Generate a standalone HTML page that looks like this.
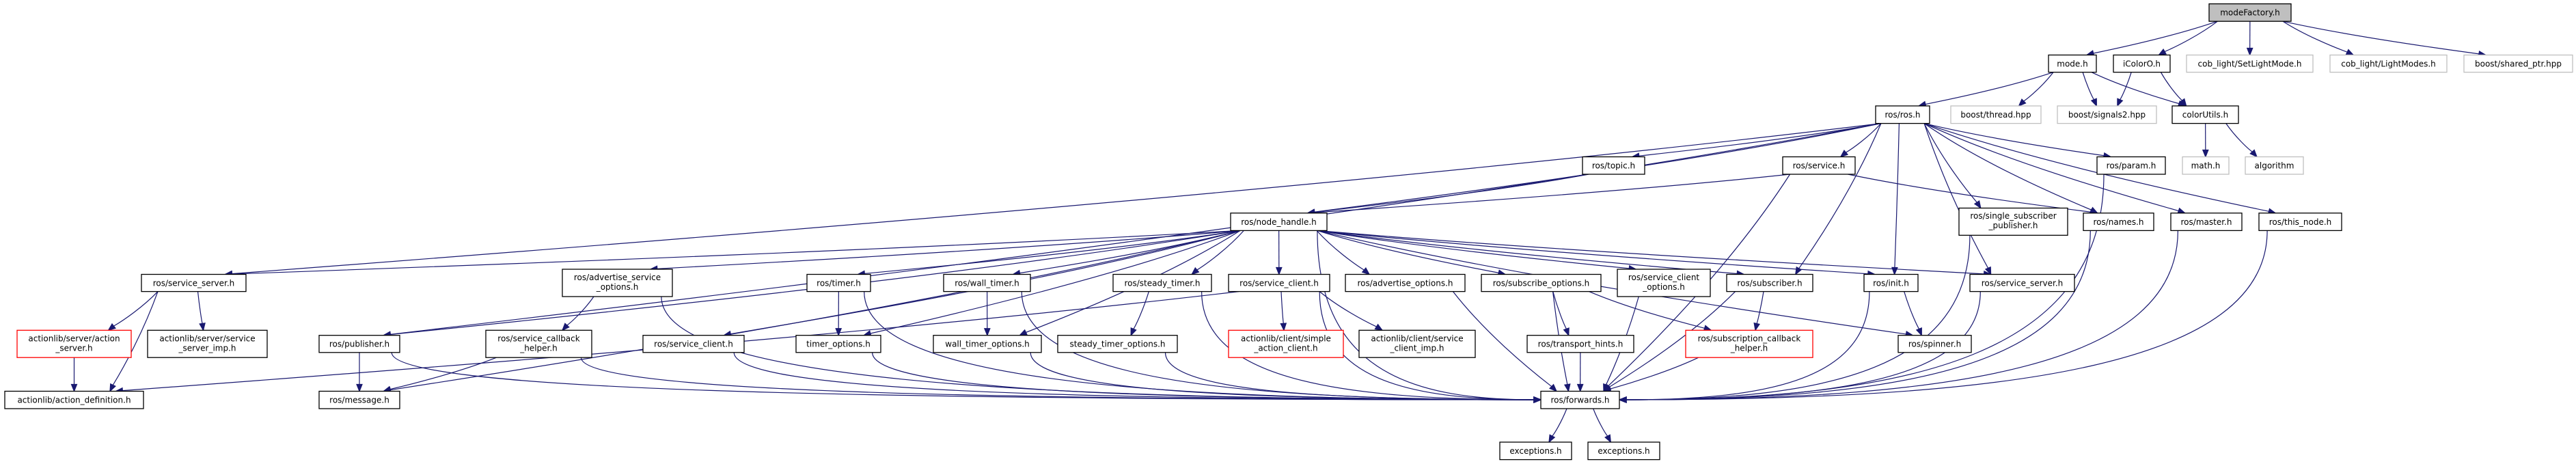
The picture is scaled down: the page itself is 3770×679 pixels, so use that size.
<!DOCTYPE html>
<html><head><meta charset="utf-8"><style>
html,body{margin:0;padding:0;background:#fff;}
svg{display:block;}
text{font-family:"DejaVu Sans","Liberation Sans",sans-serif;font-size:12px;fill:#000;text-anchor:middle;}
rect{fill:#fff;stroke:#000;stroke-width:1.3;}
rect.g{stroke:#bfbfbf;}
rect.r{stroke:#ff0000;}
rect.f{fill:#bfbfbf;}
</style></head><body>
<svg id="s" width="3770" height="679" viewBox="0 0 3770 679" xmlns="http://www.w3.org/2000/svg">
<g id="edges" fill="none" stroke="#191970" stroke-width="1.2"></g>
<g id="nodes">
<rect class="f" x="3233" y="5.6" width="120" height="25.6"/><text x="3293" y="22.5">modeFactory.h</text>
<rect x="2998" y="80.5" width="70" height="25.2"/><text x="3033" y="97.3">mode.h</text>
<rect x="3093" y="80.5" width="83" height="25.2"/><text x="3134.5" y="97.3">iColorO.h</text>
<rect class="g" x="3200" y="80.5" width="185" height="25.2"/><text x="3292.5" y="97.3">cob_light/SetLightMode.h</text>
<rect class="g" x="3410" y="80.5" width="171" height="25.2"/><text x="3495.5" y="97.3">cob_light/LightModes.h</text>
<rect class="g" x="3606" y="80.5" width="159" height="25.2"/><text x="3685.5" y="97.3">boost/shared_ptr.hpp</text>
<rect x="2745" y="155" width="79" height="25.6"/><text x="2784.5" y="172">ros/ros.h</text>
<rect class="g" x="2855" y="155" width="132" height="25.6"/><text x="2921" y="172">boost/thread.hpp</text>
<rect class="g" x="3011" y="155" width="145" height="25.6"/><text x="3083.5" y="172">boost/signals2.hpp</text>
<rect x="3179" y="155" width="97" height="25.6"/><text x="3227.5" y="172">colorUtils.h</text>
<rect class="g" x="3194" y="229.5" width="68" height="25.5"/><text x="3228" y="246.5">math.h</text>
<rect class="g" x="3286" y="229.5" width="85" height="25.5"/><text x="3328.5" y="246.5">algorithm</text>
<rect x="3069" y="229.5" width="100" height="25.5"/><text x="3119" y="246.5">ros/param.h</text>
<rect x="2316" y="229.5" width="91" height="25.5"/><text x="2361.5" y="246.5">ros/topic.h</text>
<rect x="2609" y="229.5" width="106" height="25.5"/><text x="2662" y="246.5">ros/service.h</text>
<rect x="1801" y="311.8" width="141" height="25.6"/><text x="1871.5" y="328.8">ros/node_handle.h</text>
<rect x="2867" y="304.5" width="159" height="39.8"/><text x="2946.5" y="320">ros/single_subscriber</text><text x="2946.5" y="334">_publisher.h</text>
<rect x="3049" y="311.8" width="103" height="25.6"/><text x="3100.5" y="328.8">ros/names.h</text>
<rect x="3177" y="311.8" width="104" height="25.6"/><text x="3229" y="328.8">ros/master.h</text>
<rect x="3306" y="311.8" width="121" height="25.6"/><text x="3366.5" y="328.8">ros/this_node.h</text>
<rect x="207" y="401.5" width="153" height="25.1"/><text x="283.5" y="418.3">ros/service_server.h</text>
<rect x="823" y="394" width="161" height="40"/><text x="903.5" y="410">ros/advertise_service</text><text x="903.5" y="424">_options.h</text>
<rect x="1181" y="401.5" width="93" height="25.1"/><text x="1227.5" y="418.3">ros/timer.h</text>
<rect x="1381" y="401.5" width="127" height="25.1"/><text x="1444.5" y="418.3">ros/wall_timer.h</text>
<rect x="1629" y="401.5" width="144" height="25.1"/><text x="1701" y="418.3">ros/steady_timer.h</text>
<rect x="1798" y="401.5" width="148" height="25.1"/><text x="1872" y="418.3">ros/service_client.h</text>
<rect x="1969" y="401.5" width="175" height="25.1"/><text x="2056.5" y="418.3">ros/advertise_options.h</text>
<rect x="2168" y="401.5" width="175" height="25.1"/><text x="2255.5" y="418.3">ros/subscribe_options.h</text>
<rect x="2367" y="394" width="136" height="40"/><text x="2435" y="410">ros/service_client</text><text x="2435" y="424">_options.h</text>
<rect x="2527" y="401.5" width="126" height="25.1"/><text x="2590" y="418.3">ros/subscriber.h</text>
<rect x="2728" y="401.5" width="79" height="25.1"/><text x="2767.5" y="418.3">ros/init.h</text>
<rect x="2883" y="401.5" width="153" height="25.1"/><text x="2959.5" y="418.3">ros/service_server.h</text>
<rect class="r" x="25" y="483.3" width="167" height="39.9"/><text x="108.5" y="499.3">actionlib/server/action</text><text x="108.5" y="513.3">_server.h</text>
<rect x="216" y="483.3" width="175" height="39.9"/><text x="303.5" y="499.3">actionlib/server/service</text><text x="303.5" y="513.3">_server_imp.h</text>
<rect x="467" y="490.7" width="118" height="25.1"/><text x="526" y="507.5">ros/publisher.h</text>
<rect x="711" y="483.3" width="155" height="39.9"/><text x="788.5" y="499.3">ros/service_callback</text><text x="788.5" y="513.3">_helper.h</text>
<rect x="941" y="490.7" width="148" height="25.1"/><text x="1015" y="507.5">ros/service_client.h</text>
<rect x="1165" y="490.7" width="124" height="25.1"/><text x="1227" y="507.5">timer_options.h</text>
<rect x="1366" y="490.7" width="158" height="25.1"/><text x="1445" y="507.5">wall_timer_options.h</text>
<rect x="1548" y="490.7" width="175" height="25.1"/><text x="1635.5" y="507.5">steady_timer_options.h</text>
<rect class="r" x="1798" y="483.3" width="168" height="39.9"/><text x="1882" y="499.3">actionlib/client/simple</text><text x="1882" y="513.3">_action_client.h</text>
<rect x="1989" y="483.3" width="170" height="39.9"/><text x="2074" y="499.3">actionlib/client/service</text><text x="2074" y="513.3">_client_imp.h</text>
<rect x="2235" y="490.7" width="156" height="25.1"/><text x="2313" y="507.5">ros/transport_hints.h</text>
<rect class="r" x="2467" y="483.3" width="186" height="39.9"/><text x="2560" y="499.3">ros/subscription_callback</text><text x="2560" y="513.3">_helper.h</text>
<rect x="2778" y="490.7" width="107" height="25.1"/><text x="2831.5" y="507.5">ros/spinner.h</text>
<rect x="7" y="572.5" width="203" height="25.5"/><text x="108.5" y="589.5">actionlib/action_definition.h</text>
<rect x="467" y="572.5" width="118" height="25.5"/><text x="526" y="589.5">ros/message.h</text>
<rect x="2255" y="572.5" width="115" height="25.5"/><text x="2312.5" y="589.5">ros/forwards.h</text>
<rect x="2195" y="647" width="105" height="25.6"/><text x="2247.5" y="664">exceptions.h</text>
<rect x="2324" y="647" width="105" height="25.6"/><text x="2376.5" y="664">exceptions.h</text>
</g>
</svg>
<script>
var N={mf:[3233,5.6,3353,31.2],mode:[2998,80.5,3068,105.7],icol:[3093,80.5,3176,105.7],setl:[3200,80.5,3385,105.7],lmod:[3410,80.5,3581,105.7],shp:[3606,80.5,3765,105.7],
ros:[2745,155,2824,180.6],thr:[2855,155,2987,180.6],sig:[3011,155,3156,180.6],cu:[3179,155,3276,180.6],math:[3194,229.5,3262,255],alg:[3286,229.5,3371,255],
param:[3069,229.5,3169,255],topic:[2316,229.5,2407,255],srv:[2609,229.5,2715,255],nh:[1801,311.8,1942,337.4],ssp:[2867,304.5,3026,344.3],names:[3049,311.8,3152,337.4],
master:[3177,311.8,3281,337.4],thisn:[3306,311.8,3427,337.4],ssL:[207,401.5,360,426.6],aso:[823,394,984,434],timer:[1181,401.5,1274,426.6],wt:[1381,401.5,1508,426.6],
st:[1629,401.5,1773,426.6],sc2:[1798,401.5,1946,426.6],ao:[1969,401.5,2144,426.6],so:[2168,401.5,2343,426.6],sco:[2367,394,2503,434],sub:[2527,401.5,2653,426.6],
init:[2728,401.5,2807,426.6],ssR:[2883,401.5,3036,426.6],as:[25,483.3,192,523.2],ssi:[216,483.3,391,523.2],pub:[467,490.7,585,515.8],sch:[711,483.3,866,523.2],
sc1:[941,490.7,1089,515.8],to:[1165,490.7,1289,515.8],wto:[1366,490.7,1524,515.8],sto:[1548,490.7,1723,515.8],sac:[1798,483.3,1966,523.2],sci:[1989,483.3,2159,523.2],
th:[2235,490.7,2391,515.8],schp:[2467,483.3,2653,523.2],spin:[2778,490.7,2885,515.8],ad:[7,572.5,210,598],msg:[467,572.5,585,598],fw:[2255,572.5,2370,598],
ex1:[2195,647,2300,672.6],ex2:[2324,647,2429,672.6]};
var E="mf>mode mf>icol mf>setl mf>lmod mf>shp mode>ros mode>thr mode>sig mode>cu icol>sig icol>cu cu>math cu>alg "+
"ros>ssL ros>pub ros>nh ros>topic ros>srv ros>sub ros>init ros>ssp ros>ssR ros>names ros>param ros>master ros>thisn "+
"srv>nh srv>names srv>fw topic>nh "+
"nh>ssL nh>aso nh>sc1 nh>timer nh>to nh>wt nh>wto nh>st nh>sc2 nh>ao nh>so nh>sco nh>sub nh>init nh>ssR nh>spin nh>pub nh>msg nh>fw "+
"ssL>ad ssL>as ssL>ssi as>ad pub>msg pub>fw aso>sch aso>fw sch>msg sch>fw sc1>fw timer>to timer>fw wt>wto wt>fw st>sto st>fw "+
"to>fw wto>fw sto>fw sc2>sac sc2>sci sc2>ad sc2>fw ao>fw so>th so>fw so>schp th>fw schp>fw sco>fw sub>schp sub>fw init>spin init>fw "+
"ssR>fw ssp>fw names>fw master>fw thisn>fw param>fw fw>ex1 fw>ex2";
var g=document.getElementById('edges'),ns="http://www.w3.org/2000/svg",C="#191970";
function el(t,a){var e=document.createElementNS(ns,t);for(var k in a)e.setAttribute(k,a[k]);g.appendChild(e);return e;}
function arrow(tx,ty,dx,dy){var l=Math.hypot(dx,dy)||1;dx/=l;dy/=l;var L=10,W=4;
 var bx=tx-dx*L,by=ty-dy*L;el('polygon',{points:tx+','+ty+' '+(bx-dy*W)+','+(by+dx*W)+' '+(bx+dy*W)+','+(by-dx*W),fill:C,stroke:C});return [bx,by];}
E.split(' ').forEach(function(p){var a=p.split('>'),s=N[a[0]],t=N[a[1]];
 var scx=(s[0]+s[2])/2,tcx=(t[0]+t[2])/2,sw=(s[2]-s[0])/2;
 var sx=scx+Math.max(-sw*0.8,Math.min(sw*0.8,(tcx-scx)*0.3)),sy=s[3];
 if(a[1]=='fw'&&Math.abs(scx-tcx)>400){
  var left=scx<tcx,tx=left?t[0]:t[2],ty=585;
  var b=arrow(tx,ty,left?1:-1,0);
  el('path',{d:'M'+sx+','+sy+' C'+sx+','+(sy+(ty-sy)*0.8)+' '+(sx+(b[0]-sx)*0.4)+','+ty+' '+b[0]+','+b[1]});
 } else {
  var tw=(t[2]-t[0])/2,tx=tcx+Math.max(-tw*0.6,Math.min(tw*0.6,(scx-tcx)*0.3)),ty=t[1];
  var dx=tx-sx,dy=ty-sy;
  var b=arrow(tx,ty,dx,dy);
  var c1x=sx+dx*0.3,c1y=sy+dy*0.4,c2x=sx+dx*0.7,c2y=sy+dy*0.75;
  el('path',{d:'M'+sx+','+sy+' C'+c1x+','+c1y+' '+c2x+','+c2y+' '+b[0]+','+b[1]});
 }
});
</script>
</body></html>
